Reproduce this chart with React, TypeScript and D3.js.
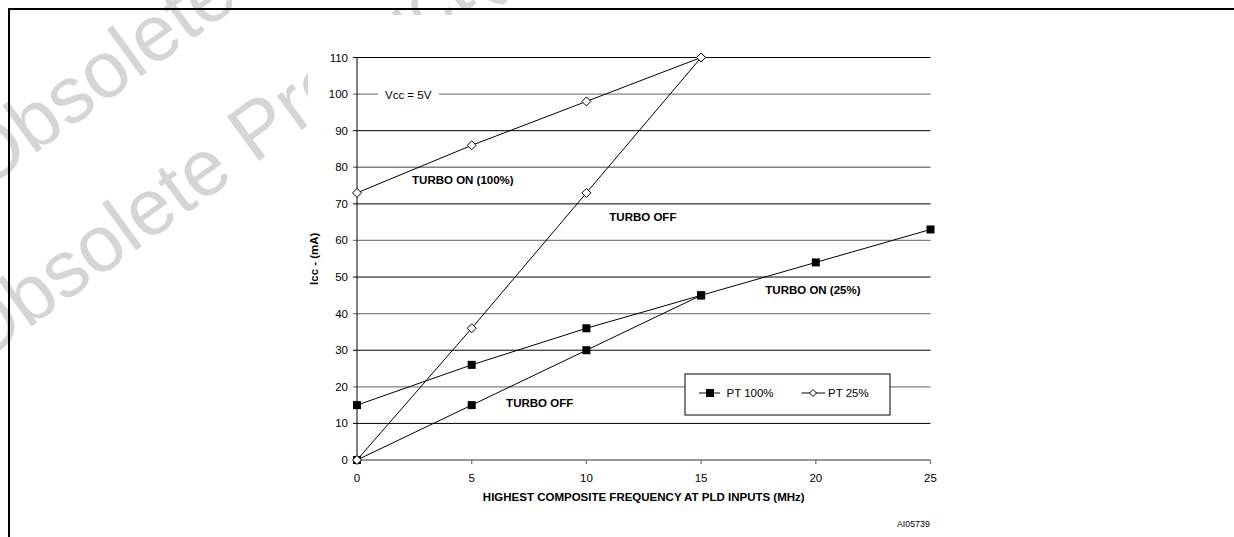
import React from "react";
import * as d3 from "d3";

// ---- data ----
const freqTicks = [0, 5, 10, 15, 20, 25];
const iccTicks = [0, 10, 20, 30, 40, 50, 60, 70, 80, 90, 100, 110];

const freqTurboOn25 = [0, 5, 10, 15, 20, 25];
const pt100TurboOn = [15, 26, 36, 45, 54, 63];
const freqTurboOff = [0, 5, 10, 15];
const pt100TurboOff = [0, 15, 30, 45];
const freqPt25 = [0, 5, 10, 15];
const pt25TurboOn = [73, 86, 98, 110];
const pt25TurboOff = [0, 36, 73, 110];

const legendLabels = ["PT 100%", "PT 25%"];
const annotations = [
  { text: "TURBO ON (100%)", x: 2.4, y: 75.4 },
  { text: "TURBO OFF", x: 11.0, y: 65.3 },
  { text: "TURBO ON (25%)", x: 17.8, y: 45.3 },
  { text: "TURBO OFF", x: 6.5, y: 14.4 },
];

const W = 1234;
const H = 537;
const FONT = "'Liberation Sans', Arial, Helvetica, sans-serif";

export default function App() {
  const x = d3.scaleLinear().domain([0, 25]).range([357, 930.5]);
  const y = d3.scaleLinear().domain([0, 110]).range([460, 57.5]);
  const line = d3
    .line<[number, number]>()
    .x((d) => x(d[0]))
    .y((d) => y(d[1]));

  const zip = (xs: number[], ys: number[]) =>
    xs.map((v, i) => [v, ys[i]] as [number, number]);

  const squares = [zip(freqTurboOn25, pt100TurboOn), zip(freqTurboOff, pt100TurboOff)];
  const diamonds = [zip(freqPt25, pt25TurboOn), zip(freqPt25, pt25TurboOff)];

  const sq = (cx: number, cy: number, k: string) => (
    <rect key={k} x={cx - 4} y={cy - 4} width={8} height={8} fill="#000" />
  );
  const dm = (cx: number, cy: number, k: string) => (
    <path
      key={k}
      d={`M${cx},${cy - 4.5}L${cx + 4.5},${cy}L${cx},${cy + 4.5}L${cx - 4.5},${cy}Z`}
      fill="#fff"
      stroke="#000"
      strokeWidth={1}
    />
  );

  const x0 = x(0);
  const x1 = x(25);
  const legY = 393;

  return (
    <svg
      width={W}
      height={H}
      style={{ position: "absolute", left: 0, top: 0, background: "#fff" }}
      fontFamily={FONT}
    >
      {/* watermark */}
      <g fill="#d5d5d5" fontSize={80} fontFamily={FONT}>
        <text transform="translate(-23,366) rotate(-36)">Obsolete Product(s)</text>
        <text transform="translate(-18,192) rotate(-36)">Obsolete Product(s)</text>
      </g>
      {/* chart image background */}
      <rect x={308} y={15} width={W - 308} height={H - 15} fill="#fff" />
      {/* frame */}
      <line x1={8} x2={W} y1={9} y2={9} stroke="#000" strokeWidth={2} />
      <line x1={9} x2={9} y1={8} y2={H} stroke="#000" strokeWidth={2} />

      {/* gridlines */}
      {iccTicks.map((v) => (
        <line
          key={"g" + v}
          x1={x0 - 4}
          x2={x1}
          y1={y(v)}
          y2={y(v)}
          stroke={v === 0 ? "#777" : (v / 10) % 2 === 1 ? "#000" : "#808080"}
          strokeWidth={v === 0 ? 1.5 : (v / 10) % 2 === 1 ? 1 : 1.3}
        />
      ))}
      {/* Vcc label on 100 line */}
      <rect x={378} y={y(100) - 7} width={61} height={14} fill="#fff" />
      <text x={385} y={y(100) + 4.5} fontSize={11.5} fill="#000">
        Vcc = 5V
      </text>
      {/* y axis */}
      <line x1={x0} x2={x0} y1={y(110)} y2={y(0)} stroke="#000" strokeWidth={1} />
      {iccTicks.map((v) => (
        <text key={"yl" + v} x={348} y={y(v) + 4} fontSize={11.5} textAnchor="end" fill="#000">
          {v}
        </text>
      ))}
      {/* x ticks */}
      {freqTicks.map((v) => (
        <g key={"xt" + v}>
          <line x1={x(v)} x2={x(v)} y1={y(0)} y2={y(0) + 4} stroke="#777" strokeWidth={1.3} />
          <text x={x(v)} y={482} fontSize={11.5} textAnchor="middle" fill="#000">
            {v}
          </text>
        </g>
      ))}

      {/* axis titles */}
      <text
        x={643.75}
        y={501}
        fontSize={11.5}
        fontWeight="bold"
        textAnchor="middle"
        fill="#000"
      >
        HIGHEST COMPOSITE FREQUENCY AT PLD INPUTS (MHz)
      </text>
      <text
        transform={`translate(318,${(y(0) + y(110)) / 2}) rotate(-90)`}
        fontSize={11.5}
        fontWeight="bold"
        textAnchor="middle"
        fill="#000"
      >
        Icc - (mA)
      </text>

      {/* lines */}
      {squares.map((s, i) => (
        <path key={"ls" + i} d={line(s) || ""} fill="none" stroke="#000" strokeWidth={1} />
      ))}
      {diamonds.map((s, i) => (
        <path key={"ld" + i} d={line(s) || ""} fill="none" stroke="#000" strokeWidth={1} />
      ))}
      {squares.map((s, i) => s.map((p, j) => sq(x(p[0]), y(p[1]), `s${i}-${j}`)))}
      {diamonds.map((s, i) => s.map((p, j) => dm(x(p[0]), y(p[1]), `d${i}-${j}`)))}

      {/* annotations */}
      {annotations.map((a, i) => (
        <text
          key={"an" + i}
          x={x(a.x)}
          y={y(a.y)}
          fontSize={11.5}
          fontWeight="bold"
          fill="#000"
        >
          {a.text}
        </text>
      ))}

      {/* legend */}
      <rect x={685} y={374} width={205} height={41} fill="#fff" stroke="#000" strokeWidth={1} />
      <line x1={699} x2={720} y1={legY} y2={legY} stroke="#000" strokeWidth={1} />
      {sq(710, legY, "legs")}
      <text x={726.5} y={legY + 4} fontSize={11.5} fill="#000">
        {legendLabels[0]}
      </text>
      <line x1={801.5} x2={825} y1={legY} y2={legY} stroke="#000" strokeWidth={1} />
      <path
        d={`M813,${legY - 3.5}L816.5,${legY}L813,${legY + 3.5}L809.5,${legY}Z`}
        fill="#fff"
        stroke="#000"
        strokeWidth={1}
      />
      <text x={828} y={legY + 4} fontSize={11.5} fill="#000">
        {legendLabels[1]}
      </text>

      {/* figure id */}
      <text x={897} y={527} fontSize={8.8} fill="#000">
        AI05739
      </text>
    </svg>
  );
}
